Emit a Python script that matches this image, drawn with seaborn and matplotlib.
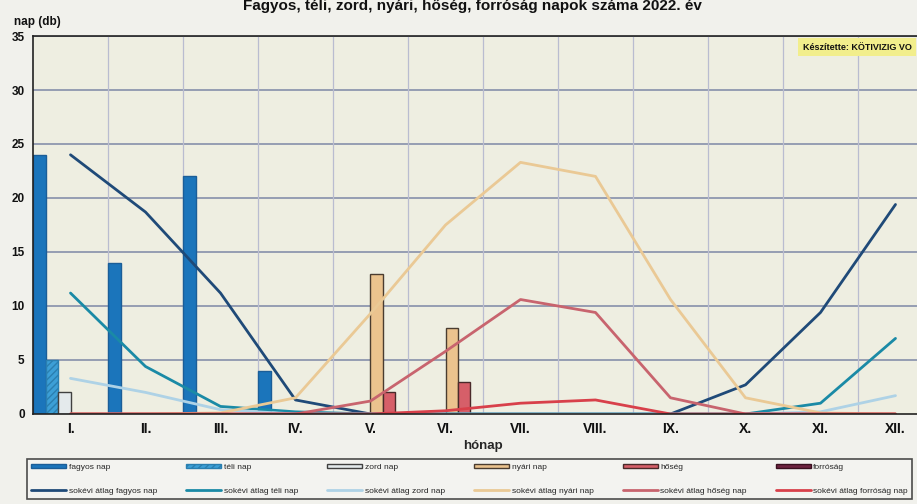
import numpy as np
import pandas as pd
import matplotlib
matplotlib.use("Agg")
import matplotlib.pyplot as plt
from matplotlib.patches import Patch
from matplotlib.lines import Line2D
import seaborn as sns

months = ["I.", "II.", "III.", "IV.", "V.", "VI.", "VII.", "VIII.", "IX.", "X.", "XI.", "XII."]

bar_names = ["fagyos nap", "téli nap", "zord nap", "nyári nap", "hőség", "forróság"]
fagyos = [24, 14, 22, 4, 0, 0, np.nan, np.nan, np.nan, np.nan, np.nan, np.nan]
teli = [5, 0, 0, 0, 0, 0, np.nan, np.nan, np.nan, np.nan, np.nan, np.nan]
zord = [2, 0, 0, 0, 0, 0, np.nan, np.nan, np.nan, np.nan, np.nan, np.nan]
nyari = [0, 0, 0, 0, 13, 8, np.nan, np.nan, np.nan, np.nan, np.nan, np.nan]
hoseg = [0, 0, 0, 0, 2, 3, np.nan, np.nan, np.nan, np.nan, np.nan, np.nan]
forrosag = [0, 0, 0, 0, 0, 0, np.nan, np.nan, np.nan, np.nan, np.nan, np.nan]

line_names = ["sokévi átlag fagyos nap", "sokévi átlag téli nap", "sokévi átlag zord nap",
              "sokévi átlag nyári nap", "sokévi átlag hőség nap", "sokévi átlag forróság nap"]
avg_fagyos = [24.0, 18.7, 11.2, 1.3, 0, 0, 0, 0, 0, 2.7, 9.4, 19.4]
avg_teli = [11.2, 4.4, 0.7, 0.2, 0, 0, 0, 0, 0, 0, 1.0, 7.0]
avg_zord = [3.3, 2.0, 0.4, 0, 0, 0, 0, 0, 0, 0, 0.2, 1.7]
avg_nyari = [0, 0, 0.1, 1.5, 9.3, 17.5, 23.3, 22.0, 10.6, 1.5, 0.1, 0]
avg_hoseg = [0, 0, 0, 0, 1.2, 5.8, 10.6, 9.4, 1.5, 0, 0, 0]
avg_forrosag = [0, 0, 0, 0, 0, 0.3, 1.0, 1.3, 0, 0, 0, 0]

bar_colors = ["#1B75BB", "#3C9FD6", "#E4EAEC", "#EBC38E", "#D65F69", "#6E2340"]
bar_edges = ["#1B5E98", "#2A7FB0", "#404040", "#4A3C30", "#4A2A2A", "#3A1020"]
line_colors = ["#1F4A78", "#1A8AA6", "#AED2E6", "#EAC995", "#C8646E", "#D8404A"]

sns.set_theme(style="white")
plt.rcParams["font.family"] = ["Liberation Sans Narrow", "Liberation Sans", "DejaVu Sans"]
plt.rcParams["hatch.color"] = "#9FD3EE"

fig = plt.figure(figsize=(9.17, 5.04), dpi=100, facecolor="#F1F1EC")
ax = fig.add_axes([33 / 917, 90 / 504, 900 / 917, 378 / 504])
ax.set_facecolor("#EEEEE1")

bar_series = [fagyos, teli, zord, nyari, hoseg, forrosag]
df = pd.DataFrame({
    "month": np.tile(months, len(bar_names)),
    "series": np.repeat(bar_names, len(months)),
    "value": np.concatenate([np.array(s, dtype=float) for s in bar_series]),
})
df["value"] = df["value"].fillna(0)

sns.barplot(data=df, x="month", y="value", hue="series", order=months, hue_order=bar_names,
            palette=bar_colors, width=1.0, dodge=True, saturation=1, ax=ax, legend=False,
            linewidth=1)
for cont, ec, name in zip(ax.containers, bar_edges, bar_names):
    for p in cont.patches:
        if p.get_height() > 0:
            p.set_edgecolor(ec)
            if name == "téli nap":
                p.set_hatch("/////")
        else:
            p.set_visible(False)

x = np.arange(len(months))
for vals, col in zip([avg_fagyos, avg_teli, avg_zord, avg_nyari, avg_hoseg, avg_forrosag], line_colors):
    sns.lineplot(x=x, y=vals, color=col, linewidth=2, ax=ax)

ax.set_xlim(-0.5, 11.5)
ax.set_ylim(0, 35)
ax.set_yticks(range(0, 36, 5))
ax.set_yticklabels([str(v) for v in range(0, 36, 5)], fontsize=8.5, fontweight="bold")
ax.set_xticks(x)
ax.set_xticklabels(months, fontsize=10, fontweight="bold")
ax.set_xticks(np.arange(-0.5, 12, 1), minor=True)
ax.tick_params(axis="x", which="major", length=0, pad=6, colors="#111111")
ax.tick_params(axis="x", which="minor", length=4, color="#333333", direction="out")
ax.tick_params(axis="y", which="major", length=4, color="#333333", pad=2, colors="#111111")
ax.set_axisbelow(True)
for yv in range(5, 36, 5):
    ax.axhline(yv, color="#7D88A6", linewidth=1.1, zorder=0)
for xv in np.arange(0.5, 12, 1):
    ax.axvline(xv, color="#B9BCD0", linewidth=0.9, zorder=0)
ax.set_xlabel("hónap", fontsize=9.5, fontweight="bold", labelpad=3)
ax.set_ylabel("")
for s in ["left", "bottom", "top"]:
    ax.spines[s].set_color("#222222")
    ax.spines[s].set_linewidth(1.2)
ax.spines["right"].set_visible(False)

fig.text(0.515, 1 - 10 / 504, "Fagyos, téli, zord, nyári, hőség, forróság napok száma 2022. év",
         ha="center", va="baseline", fontsize=11, fontweight="bold", color="#111111")
fig.text(14 / 917, 1 - 22 / 504, "nap (db)", ha="left", va="center", fontsize=8.5,
         fontweight="bold", color="#111111")
fig.text(803 / 917, 1 - 47 / 504, "Készítette: KÖTIVIZIG VO", ha="left", va="center",
         fontsize=6.5, fontweight="bold", color="#111111",
         bbox=dict(boxstyle="square,pad=0.5", facecolor="#F2EE8C", edgecolor="none"))

handles, labels = [], []
for i in range(6):
    handles.append(Patch(facecolor=bar_colors[i], edgecolor=bar_edges[i],
                         hatch="/////" if i == 1 else None))
    labels.append(bar_names[i])
    handles.append(Line2D([0], [0], color=line_colors[i], linewidth=2))
    labels.append(line_names[i])
leg = fig.legend(handles, labels, ncol=6, loc="upper left",
                 bbox_to_anchor=(27 / 917, 1 - 460 / 504, 885 / 917, 0.001), mode="expand",
                 fontsize=6, frameon=True, fancybox=False, handlelength=4.2, handleheight=0.5,
                 handletextpad=0.3, borderaxespad=0.0, borderpad=0.5, labelspacing=2.0)
leg.get_frame().set_edgecolor("#222222")
leg.get_frame().set_linewidth(1.2)
leg.get_frame().set_facecolor("#F4F4F2")

fig.savefig("out.png", dpi=100, facecolor=fig.get_facecolor())
